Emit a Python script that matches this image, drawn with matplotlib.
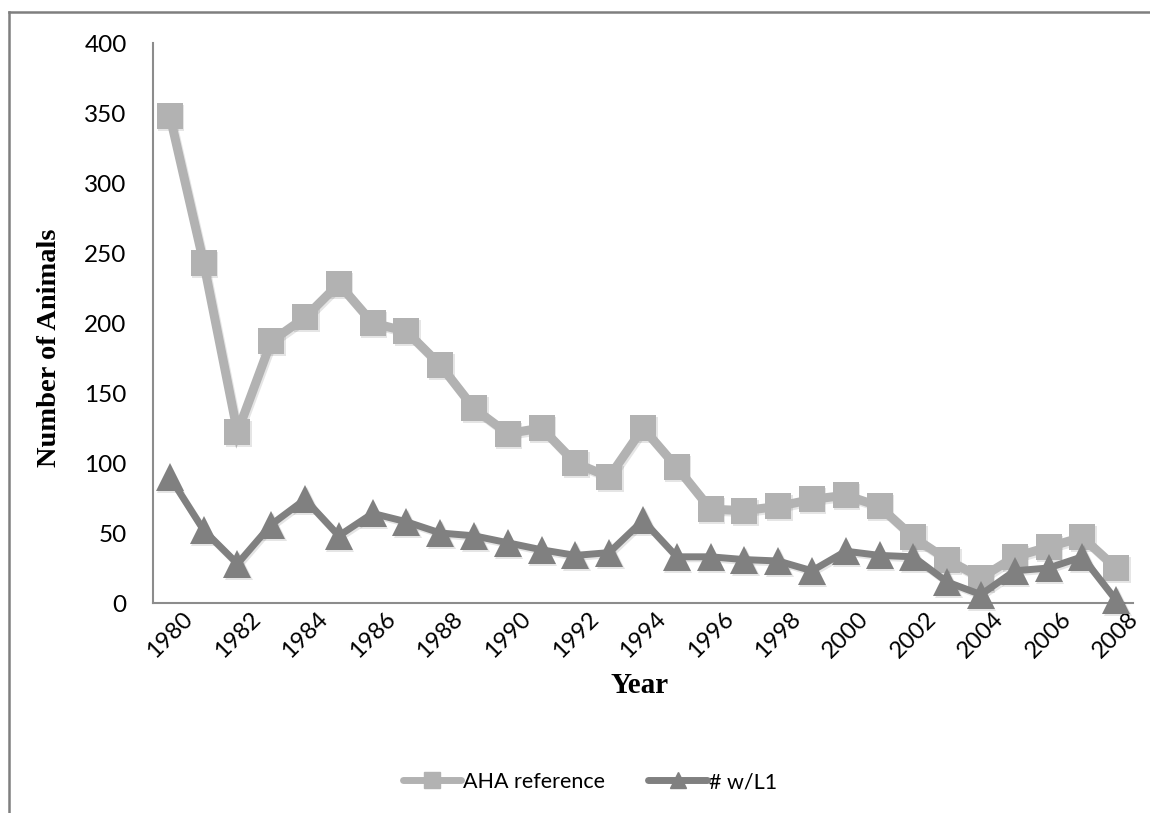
import matplotlib
matplotlib.use("Agg")
import matplotlib.pyplot as plt
import matplotlib.transforms as mtransforms
from matplotlib.lines import Line2D

# Yearly counts
years = list(range(1980, 2009))
aha_reference = [348, 243, 122, 187, 204, 228, 200, 194, 170, 139, 121, 125, 100,
                 90, 125, 97, 67, 66, 69, 74, 77, 69, 47, 31, 18, 33, 40, 47, 25]
with_l1 = [90, 52, 28, 56, 74, 48, 64, 58, 50, 48, 43, 38, 34,
           36, 59, 33, 33, 31, 30, 23, 37, 34, 33, 15, 6, 23, 25, 33, 2]
tick_years = list(range(1980, 2009, 2))
y_ticks = list(range(0, 401, 50))

light_gray = "#B2B2B2"
dark_gray = "#808080"
axis_gray = "#8C8C8C"
tick_font = "Lato"

W, H = 1150, 813
fig = plt.figure(figsize=(W / 100, H / 100), dpi=100)

# Chart-area frame (top and left edges)
fig.add_artist(Line2D([9 / W, 9 / W], [0, 1 - 12 / H], transform=fig.transFigure,
                      color="#7F7F7F", lw=1.8))
fig.add_artist(Line2D([9 / W, 1], [1 - 12 / H, 1 - 12 / H], transform=fig.transFigure,
                      color="#7F7F7F", lw=1.8))

left, right = 153 / W, 1133 / W
bottom, top = 1 - 603 / H, 1 - 43 / H
ax = fig.add_axes([left, bottom, right - left, top - bottom])

series = [
    (aha_reference, light_gray, 6.5, "s", 19, "AHA reference", 3),
    (with_l1, dark_gray, 5, "^", 20, "# w/L1", 5),
]
shadow_tr = mtransforms.offset_copy(ax.transData, fig=fig, x=1.5, y=-2, units="dots")
for vals, col, lw, mk, ms, lab, z in series:
    # soft drop shadow under each series
    ax.plot(years, vals, color="#000000", alpha=0.10, lw=lw, marker=mk, ms=ms,
            markeredgewidth=0, transform=shadow_tr, zorder=z - 1, clip_on=False)
    ax.plot(years, vals, color=col, lw=lw, marker=mk, ms=ms, markeredgewidth=0,
            solid_joinstyle="miter", label=lab, zorder=z, clip_on=False)

ax.set_xlim(1979.5, 2008.5)
ax.set_ylim(0, 400)
ax.set_yticks(y_ticks)
ax.set_xticks(tick_years)
ax.set_yticklabels([str(v) for v in y_ticks], fontsize=17.5, family=tick_font)
ax.set_xticklabels([str(v) for v in tick_years], fontsize=17, family=tick_font,
                   rotation=45, ha="center", va="top")
ax.tick_params(axis="y", length=0, pad=19)
ax.tick_params(axis="x", length=0, pad=4)

for side in ("top", "right"):
    ax.spines[side].set_visible(False)
for side in ("left", "bottom"):
    ax.spines[side].set_color(axis_gray)
    ax.spines[side].set_linewidth(1.5)

fig.text(50 / W, 1 - 348 / H, "Number of Animals", rotation=90, ha="center", va="center",
         fontsize=20.5, fontweight="bold", family="Liberation Serif")
fig.text(640 / W, 1 - 685 / H, "Year", ha="center", va="center",
         fontsize=21, fontweight="bold", family="Liberation Serif")

legend_handles = [
    Line2D([], [], color=light_gray, lw=5, marker="s", ms=11, solid_capstyle="round"),
    Line2D([], [], color=dark_gray, lw=5, marker="^", ms=12, solid_capstyle="round"),
]
fig.legend(legend_handles, ["AHA reference", "# w/L1"], loc="center",
           bbox_to_anchor=(590 / W, 1 - 782 / H), ncol=2, frameon=False,
           prop={"family": tick_font, "size": 15.5}, handlelength=2.7,
           handletextpad=0.1, columnspacing=2.0)

fig.savefig("out.png", dpi=100, facecolor="white")
